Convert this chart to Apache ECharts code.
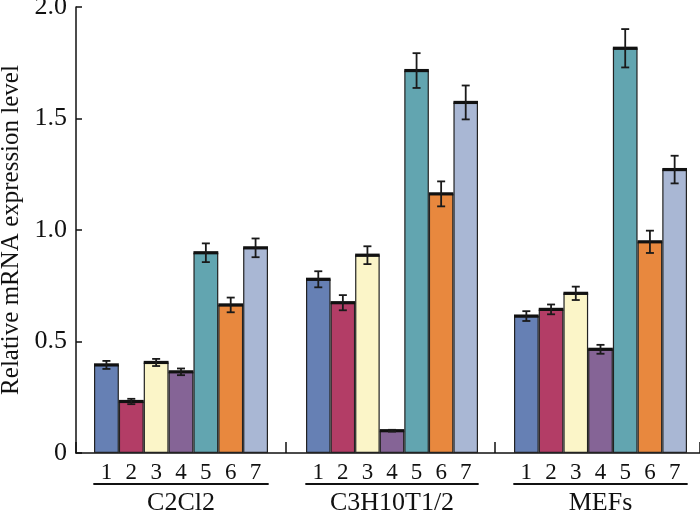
<!DOCTYPE html>
<html>
<head>
<meta charset="utf-8">
<script src="https://cdn.jsdelivr.net/npm/echarts@6/dist/echarts.min.js"></script>
<style>
  html, body { margin: 0; padding: 0; background: #fff; }
  #chart { width: 700px; height: 511px; }
</style>
</head>
<body>
<div id="chart"></div>
<script>
// data
const groups = ['C2Cl2', 'C3H10T1/2', 'MEFs'];
const barLabels = ['1', '2', '3', '4', '5', '6', '7'];
const barColors = ['#6680b4', '#b33d66', '#fbf5c8', '#856496', '#62a5b0', '#e8883e', '#a9b7d4'];
const valuesC2C12 = [0.395, 0.231, 0.406, 0.364, 0.898, 0.664, 0.920];
const errorsC2C12 = [0.018, 0.012, 0.016, 0.015, 0.042, 0.033, 0.042];
const valuesC3H = [0.779, 0.674, 0.887, 0.100, 1.715, 1.162, 1.572];
const errorsC3H = [0.036, 0.034, 0.040, 0.004, 0.078, 0.056, 0.076];
const valuesMEF = [0.614, 0.644, 0.716, 0.465, 1.815, 0.947, 1.271];
const errorsMEF = [0.022, 0.022, 0.030, 0.020, 0.086, 0.050, 0.062];
const yTicks = ['0', '0.5', '1.0', '1.5', '2.0'];

const allValues = [valuesC2C12, valuesC3H, valuesMEF];
const allErrors = [errorsC2C12, errorsC3H, errorsMEF];

const font = 'Liberation Serif';
const gridTop = 7, gridBottom = 58;
const groupBoxes = [
    { left: 94, width: 174 },
    { left: 306, width: 172 },
    { left: 514, width: 173 }
];

function renderError(params, api) {
    const idx = api.value(0);
    const v = api.value(1);
    const e = api.value(2);
    const p = api.coord([idx, v]);
    const hi = api.coord([idx, v + e]);
    const lo = api.coord([idx, v - e]);
    const bw = api.size([1, 0])[0];
    const cap = 4;
    const st = { stroke: '#1a1a1a', lineWidth: 1.8 };
    return {
        type: 'group',
        children: [
            { type: 'line', shape: { x1: p[0] - bw / 2, y1: p[1], x2: p[0] + bw / 2, y2: p[1] }, style: { stroke: '#111', lineWidth: 3.2 } },
            { type: 'line', shape: { x1: p[0], y1: hi[1], x2: p[0], y2: lo[1] }, style: st },
            { type: 'line', shape: { x1: p[0] - cap, y1: hi[1], x2: p[0] + cap, y2: hi[1] }, style: st },
            { type: 'line', shape: { x1: p[0] - cap, y1: lo[1], x2: p[0] + cap, y2: lo[1] }, style: st }
        ]
    };
}

const grid = [{ left: 76, right: 0, top: gridTop, bottom: gridBottom, outerBoundsMode: 'none' }];
const xAxis = [{
    gridIndex: 0,
    type: 'value',
    min: 0,
    max: 624,
    interval: 209.5,
    axisLine: { lineStyle: { color: '#111', width: 1.5 } },
    axisTick: { inside: true, length: 11, lineStyle: { color: '#111', width: 1.5 } },
    axisLabel: { show: false },
    splitLine: { show: false }
}];
const yAxis = [{
    gridIndex: 0,
    type: 'value',
    min: 0,
    max: 2,
    interval: 0.5,
    name: 'Relative mRNA expression level',
    nameLocation: 'middle',
    nameGap: 49,
    nameTextStyle: { fontFamily: font, fontSize: 25, color: '#111' },
    axisLine: { show: true, lineStyle: { color: '#111', width: 1.5 } },
    axisTick: { inside: true, length: 6, lineStyle: { color: '#111', width: 1.5 } },
    axisLabel: {
        fontFamily: font, fontSize: 26, color: '#111', margin: 9,
        formatter: function (v) { return yTicks[Math.round(v / 0.5)]; }
    },
    splitLine: { show: false }
}];
const series = [];

groups.forEach(function (g, gi) {
    const gIdx = gi + 1;
    grid.push({
        left: groupBoxes[gi].left, width: groupBoxes[gi].width,
        top: gridTop, bottom: gridBottom, outerBoundsMode: 'none'
    });
    xAxis.push({
        gridIndex: gIdx,
        type: 'category',
        data: barLabels,
        axisLine: { show: false },
        axisTick: { show: false },
        axisLabel: { fontFamily: font, fontSize: 23, color: '#111', margin: 8 }
    });
    xAxis.push({
        gridIndex: gIdx,
        type: 'category',
        data: barLabels,
        position: 'bottom',
        offset: 31,
        name: g,
        nameLocation: 'middle',
        nameGap: 6,
        nameTextStyle: { fontFamily: font, fontSize: 26, color: '#111' },
        axisLine: { show: true, lineStyle: { color: '#111', width: 1.8 } },
        axisTick: { show: false },
        axisLabel: { show: false }
    });
    yAxis.push({ gridIndex: gIdx, type: 'value', min: 0, max: 2, show: false });

    series.push({
        type: 'bar',
        xAxisIndex: gi * 2 + 1,
        yAxisIndex: gIdx,
        barCategoryGap: 0,
        data: allValues[gi].map(function (v, i) {
            return { value: v, itemStyle: { color: barColors[i], borderColor: '#222', borderWidth: 1.2 } };
        })
    });
    series.push({
        type: 'custom',
        xAxisIndex: gi * 2 + 1,
        yAxisIndex: gIdx,
        renderItem: renderError,
        z: 5,
        data: allValues[gi].map(function (v, i) { return [i, v, allErrors[gi][i]]; })
    });
});

const chart = echarts.init(document.getElementById('chart'));
chart.setOption({
    animation: false,
    grid: grid,
    xAxis: xAxis,
    yAxis: yAxis,
    series: series
});
</script>
</body>
</html>
